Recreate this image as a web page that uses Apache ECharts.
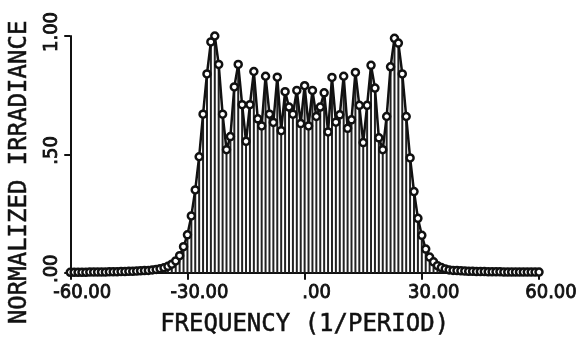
<!DOCTYPE html>
<html>
<head>
<meta charset="utf-8">
<script src="https://cdn.jsdelivr.net/npm/echarts@6/dist/echarts.min.js"></script>
<style>html,body{margin:0;padding:0;background:#fff}#c{width:584px;height:342px}</style>
</head>
<body>
<div id="c"></div>
<script>
// frequencies -60..60 (1/period)
const frequencies = [];
for (let f = -60; f <= 60; f++) frequencies.push(f);

// normalized irradiance
const irradianceLeft = [ // -60 .. -1
  0.002,0.002,0.002,0.002,0.002,0.003,0.003,0.003,0.003,0.003,
  0.004,0.004,0.004,0.005,0.005,0.006,0.006,0.007,0.008,0.009,
  0.010,0.012,0.014,0.017,0.021,0.027,0.036,0.050,0.072,0.110,
  0.160,0.240,0.350,0.490,0.670,0.840,0.975,1.000,0.880,0.670,
  0.520,0.575,0.785,0.880,0.710,0.555,0.710,0.850,0.650,0.620,
  0.830,0.670,0.635,0.826,0.600,0.765,0.700,0.670,0.770,0.630
];
const irradianceCenter = [0.790]; // 0
const irradianceRight = [ // 1 .. 60
  0.620,0.770,0.660,0.700,0.760,0.595,0.825,0.636,0.667,0.830,
  0.610,0.646,0.846,0.707,0.550,0.707,0.876,0.780,0.570,0.520,
  0.660,0.870,0.990,0.970,0.840,0.660,0.485,0.343,0.230,0.158,
  0.100,0.066,0.046,0.030,0.022,0.016,0.012,0.010,0.009,0.008,
  0.007,0.006,0.006,0.005,0.005,0.005,0.004,0.004,0.004,0.004,
  0.003,0.003,0.003,0.003,0.003,0.003,0.003,0.003,0.003,0.003
];
const irradiance = irradianceLeft.concat(irradianceCenter, irradianceRight);

const xTicks = [-60, -30, 0, 30, 60];
const yTicks = [0, 0.5, 1];

const points = frequencies.map((f, i) => [f, irradiance[i]]);

const tickFont = "'Liberation Sans Narrow','DejaVu Sans Condensed','Liberation Sans',sans-serif";
const titleFont = "'DejaVu Sans Mono',monospace";

const chart = echarts.init(document.getElementById('c'), null, {renderer: 'canvas'});
chart.setOption({
  animation: false,
  backgroundColor: '#fff',
  grid: {left: 66, top: 36, width: 473, height: 247},
  xAxis: {
    type: 'value', min: -60, max: 60, interval: 30,
    name: 'FREQUENCY (1/PERIOD)', nameLocation: 'middle', nameGap: 40,
    nameTextStyle: {fontFamily: titleFont, fontSize: 24, color: '#111', textBorderColor: '#111', textBorderWidth: 0.5},
    axisLine: {show: true, onZero: false, lineStyle: {color: '#111', width: 2}},
    axisTick: {show: true, length: 7, lineStyle: {color: '#111', width: 2}},
    splitLine: {show: false},
    axisLabel: {
      margin: 10, fontFamily: tickFont, fontSize: 20, color: '#111',
      textBorderColor: '#111', textBorderWidth: 0.8,
      padding: [0, 0, 0, 24],
      customValues: xTicks,
      formatter: v => v === 0 ? '.00' : v.toFixed(2)
    }
  },
  yAxis: {
    type: 'value', min: 0, max: 1, interval: 0.5,
    name: 'NORMALIZED IRRADIANCE', nameLocation: 'middle', nameGap: 38,
    nameTextStyle: {fontFamily: titleFont, fontSize: 24, color: '#111', textBorderColor: '#111', textBorderWidth: 0.5, padding: [0, 36, 0, 0]},
    axisLine: {show: true, onZero: false, lineStyle: {color: '#111', width: 2}},
    axisTick: {show: true, length: 6, lineStyle: {color: '#111', width: 2}},
    splitLine: {show: false},
    axisLabel: {
      rotate: 90, margin: 8, fontFamily: tickFont, fontSize: 20, color: '#111',
      textBorderColor: '#111', textBorderWidth: 0.8,
      padding: [0, 0, 0, 8],
      customValues: yTicks,
      formatter: v => v.toFixed(2).replace(/^0/, '')
    }
  },
  series: [
    {
      type: 'bar', data: points, barWidth: 2, barGap: '-100%',
      itemStyle: {color: '#222'}, silent: true, z: 1
    },
    {
      type: 'line', data: points, symbol: 'circle', symbolSize: 7,
      lineStyle: {color: '#111', width: 2.5},
      itemStyle: {color: '#fff', borderColor: '#111', borderWidth: 2.5},
      z: 3
    }
  ]
});
</script>
</body>
</html>
